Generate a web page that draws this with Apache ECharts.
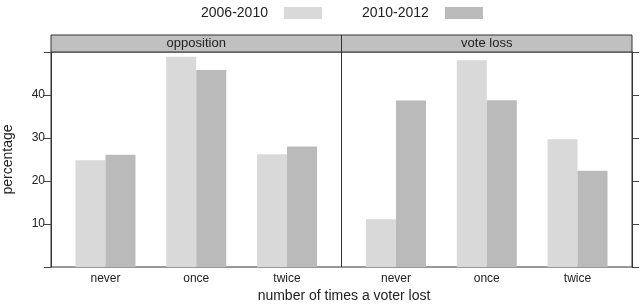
<!DOCTYPE html>
<html>
<head>
<meta charset="utf-8">
<script src="https://cdn.jsdelivr.net/npm/echarts@6/dist/echarts.min.js"></script>
<style>
  html, body { margin: 0; padding: 0; background: #fff; }
  #main { width: 640px; height: 307px; }
</style>
</head>
<body>
<div id="main"></div>
<script>
// data
const categories = ['never', 'once', 'twice'];
const panels = ['opposition', 'vote loss'];
const periods = ['2006-2010', '2010-2012'];
const opposition0610 = [24.8, 48.9, 26.2];
const opposition1012 = [26.1, 45.8, 28.0];
const voteLoss0610 = [11.1, 48.1, 29.7];
const voteLoss1012 = [38.7, 38.8, 22.4];
const yTicks = [0, 10, 20, 30, 40, 50];

const colors = ['#d9d9d9', '#bababa'];
const font = 'Liberation Sans, Arial, sans-serif';

// layout
const plotTop = 52, plotH = 215;
const stripTop = 35;
const panelLeft = [51, 341.5];
const panelW = 290.5;
// lattice pads a factor axis by 0.6 unit each side (range 0.4..3.6)
const unit = panelW / 3.2;
const inset = 0.1 * unit;

var chartDom = document.getElementById('main');
var myChart = echarts.init(chartDom);

const grids = [];
const xAxes = [];
const yAxes = [];
// frame grids (0,1)
panelLeft.forEach((l, i) => {
    grids.push({ left: l, top: plotTop, width: panelW, height: plotH, show: true,
        borderColor: '#333', borderWidth: 1, backgroundColor: 'transparent' });
    xAxes.push({ gridIndex: i, type: 'value', show: false, min: 0, max: 1 });
    yAxes.push({
        gridIndex: i, type: 'value', min: yTicks[0], max: yTicks[yTicks.length - 1], interval: 10,
        position: i === 0 ? 'left' : 'right',
        axisLine: { show: true, onZero: false, lineStyle: { color: '#333' } },
        axisTick: { show: true, inside: false, length: 7, lineStyle: { color: '#444' } },
        splitLine: { show: false },
        axisLabel: {
            show: i === 0, margin: 6, color: '#222', fontSize: 12, fontFamily: font,
            formatter: v => (v === 0 || v === 50) ? '' : String(v)
        },
        name: i === 0 ? 'percentage' : '',
        nameLocation: 'middle', nameGap: 36, nameRotate: 90,
        nameTextStyle: { color: '#222', fontSize: 14, fontFamily: font }
    });
});
// bar grids (2,3)
panelLeft.forEach((l, i) => {
    grids.push({ left: l + inset, top: plotTop, width: 3 * unit, height: plotH });
    xAxes.push({
        gridIndex: i + 2, type: 'category', data: categories,
        axisLine: { show: false }, axisTick: { show: false },
        axisLabel: { margin: 6, color: '#222', fontSize: 12, fontFamily: font }
    });
    yAxes.push({ gridIndex: i + 2, type: 'value', min: 0, max: 50, show: false });
});

const panelData = [[opposition0610, opposition1012], [voteLoss0610, voteLoss1012]];
const series = [];
panelData.forEach((pair, i) => {
    pair.forEach((vals, j) => {
        series.push({
            name: periods[j], type: 'bar', xAxisIndex: i + 2, yAxisIndex: i + 2,
            data: vals, barWidth: 30, barGap: '0%',
            itemStyle: { color: colors[j] }, silent: true
        });
    });
});

const graphics = [];
panelLeft.forEach((l, i) => {
    graphics.push({
        type: 'rect', shape: { x: l, y: stripTop, width: panelW, height: plotTop - stripTop },
        style: { fill: '#c0c0c0', stroke: '#333', lineWidth: 1 }
    });
    graphics.push({
        type: 'text', x: l + panelW / 2, y: (stripTop + plotTop) / 2,
        style: { text: panels[i], font: '13px ' + font, fill: '#222', align: 'center', verticalAlign: 'middle' }
    });
});
graphics.push({
    type: 'text', x: 344, y: 296,
    style: { text: 'number of times a voter lost', font: '14px ' + font, fill: '#222', align: 'center', verticalAlign: 'middle' }
});

var option = {
    animation: false,
    legend: {
        data: periods, left: 196, top: 1, align: 'right', icon: 'rect',
        itemWidth: 38, itemHeight: 12, itemGap: 40,
        textStyle: { color: '#222', fontSize: 14, fontFamily: font, padding: [0, 11, 0, 0] }
    },
    grid: grids,
    xAxis: xAxes,
    yAxis: yAxes,
    series: series,
    graphic: graphics
};
option && myChart.setOption(option);
</script>
</body>
</html>
